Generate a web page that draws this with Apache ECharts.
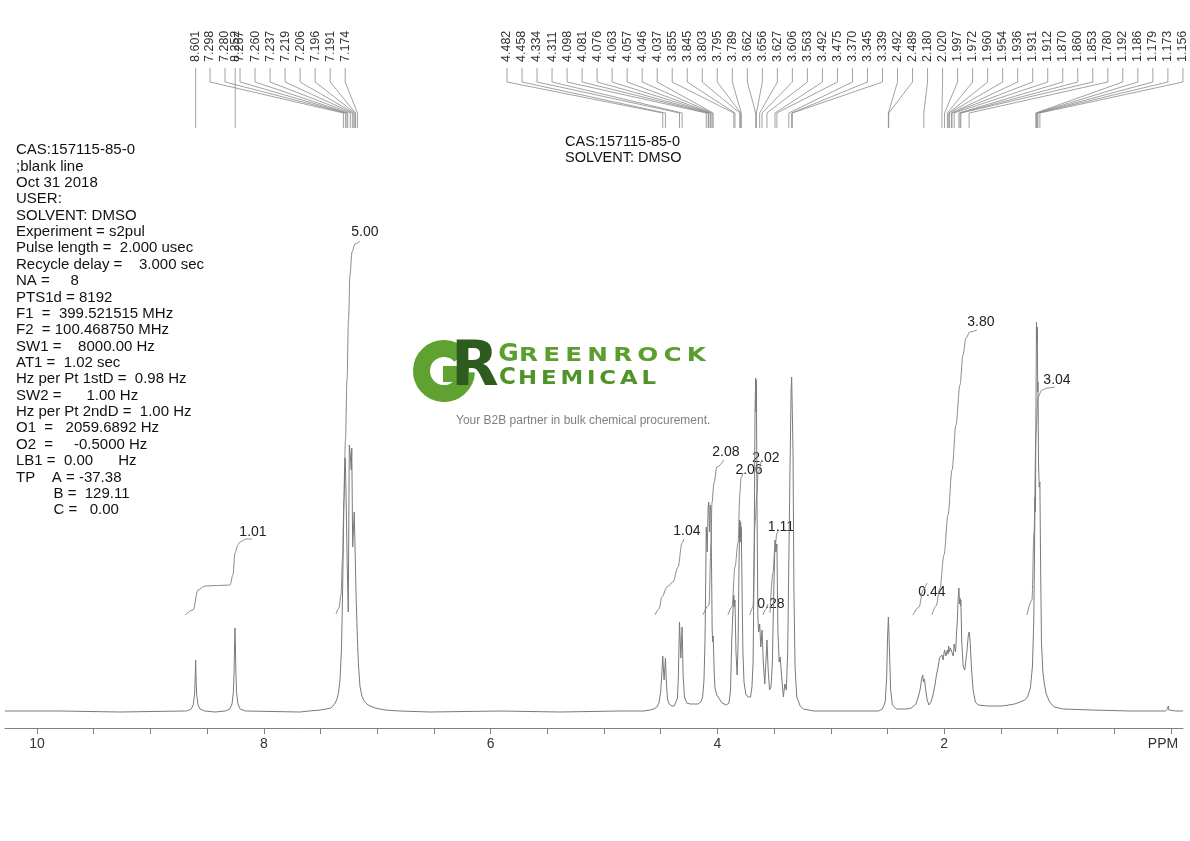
<!DOCTYPE html>
<html><head><meta charset="utf-8">
<script src="https://cdn.jsdelivr.net/npm/echarts@6/dist/echarts.min.js"></script>
<style>html,body{margin:0;padding:0;background:#fff}#chart{width:1190px;height:841px}</style>
</head><body><div id="chart"></div>
<script>
// ---------------- DATA (ppm, intensity) ----------------
const spectrumLow = [[10.282,1],[9.797,1],[9.268,0],[8.700,1],[8.680,1],[8.640,3],[8.622,7],[8.610,18],[8.605,33],[8.601,52],[8.597,33],[8.592,18],[8.580,7],[8.562,3],[8.520,1],[8.430,0],[8.340,1],[8.300,3],[8.280,8],[8.268,20],[8.262,40],[8.258,65],[8.254,84],[8.250,65],[8.246,40],[8.240,20],[8.228,8],[8.208,3],[8.160,1],[7.681,0],[7.600,1],[7.500,2],[7.451,3],[7.410,4],[7.390,6],[7.370,9],[7.354,13],[7.340,20],[7.328,32],[7.315,62],[7.306,112],[7.297,182],[7.288,242],[7.282,254],[7.275,222],[7.265,152],[7.255,100],[7.246,267],[7.237,257],[7.229,242],[7.224,264],[7.216,165],[7.202,200],[7.193,152],[7.185,112],[7.174,72],[7.165,47],[7.152,26],[7.135,16],[7.115,11],[7.081,7],[7.019,4],[6.931,2],[6.800,1],[6.534,0],[5.917,1],[5.388,0],[4.859,1],[4.650,1],[4.594,2],[4.560,3],[4.533,5]];
const spectrumMid = [[4.515,9],[4.500,20],[4.490,38],[4.482,56],[4.470,32],[4.458,54],[4.450,30],[4.440,13],[4.425,8],[4.400,6],[4.380,6],[4.365,7],[4.352,14],[4.344,35],[4.334,90],[4.322,54],[4.311,85],[4.302,36],[4.290,15],[4.270,9],[4.240,8],[4.200,8],[4.171,8],[4.145,10],[4.130,15],[4.118,32],[4.109,72],[4.104,120],[4.098,185],[4.090,160],[4.081,205],[4.076,210],[4.069,180],[4.063,207],[4.057,200],[4.051,140],[4.046,82],[4.041,70],[4.037,76],[4.028,40],[4.021,24],[4.005,17],[3.995,15],[3.959,9],[3.920,7],[3.907,7],[3.898,9],[3.884,22],[3.873,72],[3.863,100],[3.855,117],[3.850,105],[3.845,112],[3.836,60],[3.826,37],[3.817,70],[3.810,140],[3.803,192],[3.799,170],[3.795,190],[3.792,175],[3.789,185],[3.782,120],[3.775,60],[3.765,30],[3.750,18],[3.730,15],[3.708,15],[3.695,25],[3.685,50],[3.676,150],[3.668,300],[3.662,334],[3.659,300],[3.656,332],[3.650,200],[3.643,95],[3.636,80],[3.627,88],[3.617,65],[3.606,82],[3.595,50],[3.582,28],[3.572,50],[3.563,72],[3.552,42],[3.540,22],[3.527,25],[3.515,50],[3.503,120],[3.492,172],[3.484,160],[3.475,168],[3.466,80],[3.455,50],[3.446,55],[3.433,35],[3.418,15],[3.405,28],[3.392,22],[3.380,60],[3.370,150],[3.360,240],[3.350,320],[3.345,335],[3.339,334],[3.333,260],[3.325,120],[3.315,45],[3.300,15],[3.270,6],[3.240,3],[3.150,1],[2.900,1]];
const spectrumHigh = [[2.700,1],[2.580,1],[2.545,3],[2.520,10],[2.507,35],[2.499,75],[2.492,95],[2.489,94],[2.482,60],[2.472,22],[2.457,7],[2.420,3],[2.330,3],[2.290,4],[2.275,5],[2.249,8],[2.231,14],[2.213,22],[2.200,32],[2.189,37],[2.182,30],[2.174,33],[2.163,22],[2.150,12],[2.134,7],[2.116,10],[2.099,17],[2.081,27],[2.068,37],[2.055,44],[2.041,54],[2.020,57],[2.010,52],[1.997,62],[1.985,56],[1.972,62],[1.966,58],[1.960,66],[1.954,60],[1.945,64],[1.936,66],[1.931,62],[1.920,56],[1.912,68],[1.900,60],[1.885,90],[1.876,115],[1.870,124],[1.865,108],[1.860,114],[1.856,106],[1.853,112],[1.845,70],[1.832,45],[1.818,42],[1.800,60],[1.788,76],[1.780,80],[1.772,72],[1.760,45],[1.745,22],[1.725,10],[1.700,7],[1.620,6],[1.490,6],[1.430,7],[1.380,8],[1.330,10],[1.290,12],[1.265,15],[1.240,24],[1.222,45],[1.210,90],[1.205,140],[1.199,215],[1.195,200],[1.190,320],[1.186,390],[1.182,370],[1.179,385],[1.175,320],[1.173,330],[1.168,250],[1.162,225],[1.156,230],[1.150,150],[1.142,70],[1.130,40],[1.115,27],[1.100,18],[1.070,10],[1.030,5],[0.950,3],[0.700,2],[0.350,1],[0.050,1],[0.030,3],[0.024,6],[0.018,2],[-0.040,1],[-0.106,1]];

// integral curves
const int101 = [[8.695,97],[8.624,102],[8.580,122],[8.519,126],[8.298,127],[8.272,137],[8.254,159],[8.228,167],[8.210,170],[8.157,173],[8.104,173]];
const int500 = [[7.363,98],[7.337,104],[7.319,117],[7.306,152],[7.293,212],[7.280,272],[7.266,332],[7.253,392],[7.240,437],[7.222,460],[7.196,468],[7.152,471]];
const int104 = [[4.550,97],[4.515,103],[4.489,115],[4.444,125],[4.392,130],[4.347,145],[4.312,169],[4.295,173]];
const int208 = [[4.127,97],[4.074,107],[4.056,169],[4.048,209],[4.030,229],[4.004,245],[3.942,252]];
const int206 = [[3.907,97],[3.871,105],[3.845,145],[3.818,169],[3.801,219],[3.792,234],[3.774,239]];
const int202 = [[3.713,97],[3.686,105],[3.668,189],[3.651,219],[3.642,239],[3.616,250]];
const int028 = [[3.598,97],[3.571,103],[3.554,108]];
const int111 = [[3.536,99],[3.510,139],[3.492,165],[3.474,179],[3.457,182]];
const int044 = [[2.275,97],[2.222,105],[2.187,122],[2.152,129]];
const int380 = [[2.108,97],[2.072,106],[2.037,124],[2.002,157],[1.966,197],[1.931,242],[1.896,287],[1.861,327],[1.834,357],[1.808,374],[1.773,380],[1.711,382]];
const int304 = [[1.270,97],[1.226,112],[1.208,179],[1.190,279],[1.173,315],[1.138,322],[1.093,324],[1.023,325]];
const integralValues = ['1.01','5.00','1.04','2.08','2.06','2.02','0.28','1.11','0.44','3.80','3.04'];

// peak picks
const peaksSingle = ['8.601','8.252'];
const peaksAromatic = ['7.298','7.280','7.267','7.260','7.237','7.219','7.206','7.196','7.191','7.174'];
const peaksAliphatic = ['4.482','4.458','4.334','4.311','4.098','4.081','4.076','4.063','4.057','4.046','4.037','3.855','3.845','3.803','3.795','3.789','3.662','3.656','3.627','3.606','3.563','3.492','3.475','3.370','3.345','3.339','2.492','2.489','2.180','2.020','1.997','1.972','1.960','1.954','1.936','1.931','1.912','1.870','1.860','1.853','1.780','1.192','1.186','1.179','1.173','1.156'];

// axis ticks / labels
const tickValues = [0,0.5,1,1.5,2,2.5,3,3.5,4,4.5,5,5.5,6,6.5,7,7.5,8,8.5,9,9.5,10];
const labelValues = [0,2,4,6,8,10];

// header texts
const leftInfo = ['CAS:157115-85-0',';blank line','Oct 31 2018','USER:','SOLVENT: DMSO','Experiment = s2pul','Pulse length =  2.000 usec','Recycle delay =    3.000 sec','NA =     8','PTS1d = 8192','F1  =  399.521515 MHz','F2  = 100.468750 MHz','SW1 =    8000.00 Hz','AT1 =  1.02 sec','Hz per Pt 1stD =  0.98 Hz','SW2 =      1.00 Hz','Hz per Pt 2ndD =  1.00 Hz','O1  =   2059.6892 Hz','O2  =     -0.5000 Hz','LB1 =  0.00      Hz','TP    A = -37.38','         B =  129.11','         C =   0.00'];
const centerInfo = ['CAS:157115-85-0','SOLVENT: DMSO'];
const logoWord1 = 'GREENROCK';
const logoWord2 = 'CHEMICAL';
const tagline = 'Your B2B partner in bulk chemical procurement.';

// ---------------- LAYOUT ----------------
const integralLabelOffsets = [[1,-7],[5,-9],[3,-8],[2,-8],[6,-3],[5,-4],[3,0],[2,-3],[5,9],[4,-8],[2,-7]];
const AROM_X0 = 210, ALIPH_X0 = 507, LABEL_STEP = 15.02;
const FONT = '"Liberation Sans", Arial, sans-serif';

const chart = echarts.init(document.getElementById('chart'));
const integrals = [int101,int500,int104,int208,int206,int202,int028,int111,int044,int380,int304];
const series = [{
  type:'line', data: spectrumLow.concat(spectrumMid, spectrumHigh), symbol:'none', showSymbol:false,
  lineStyle:{color:'#7a7a7a', width:1}, silent:true, z:3
}];
integrals.forEach(d => series.push({
  type:'line', data:d, symbol:'none', showSymbol:false, smooth:0.35, smoothMonotone:'x',
  lineStyle:{color:'#8a8a8a', width:1}, silent:true, z:2
}));

chart.setOption({
  animation:false,
  backgroundColor:'#fff',
  grid:{left:5, right:7, top:10, bottom:113, containLabel:false},
  xAxis:{
    type:'value', inverse:true, min:-0.106, max:10.282,
    axisLine:{onZero:false, lineStyle:{color:'#808080', width:1}},
    axisTick:{show:true, customValues:tickValues, length:6, lineStyle:{color:'#808080'}},
    axisLabel:{show:true, customValues:labelValues, margin:9, color:'#333', fontSize:14, fontFamily:FONT,
      formatter: v => v === 0 ? '{p|PPM}' : String(v),
      rich:{p:{fontSize:14, fontFamily:FONT, color:'#333', padding:[0,16,0,0]}}},
    splitLine:{show:false}
  },
  yAxis:{type:'value', min:-16, max:702, show:false},
  series
});

const G = [];
const px = (x, y) => chart.convertToPixel({gridIndex:0}, [x, y]);
function peakLabel(s, lx){
  const p = px(parseFloat(s), 0)[0];
  const x = lx === null ? p : lx;
  G.push({type:'polyline', silent:true, shape:{points:[[x,68],[x,82],[p,113],[p,128]]}, style:{stroke:'#8a8a8a', lineWidth:0.8, fill:null}});
  G.push({type:'text', silent:true, x:x, y:62, rotation:Math.PI/2,
    style:{text:s, x:0, y:0, font:'12.5px '+FONT, fill:'#333', align:'left', verticalAlign:'middle'}});
}
peaksSingle.forEach(s => peakLabel(s, null));
peaksAromatic.forEach((s,i) => peakLabel(s, AROM_X0 + i*LABEL_STEP));
peaksAliphatic.forEach((s,i) => peakLabel(s, ALIPH_X0 + i*LABEL_STEP));

integrals.forEach((d,i) => {
  const e = px(d[d.length-1][0], d[d.length-1][1]);
  const o = integralLabelOffsets[i];
  G.push({type:'text', silent:true, x:e[0]+o[0], y:e[1]+o[1],
    style:{text:integralValues[i], x:0, y:0, font:'14px '+FONT, fill:'#222', align:'center', verticalAlign:'middle'}});
});

G.push({type:'text', silent:true, x:16, y:142, style:{text:leftInfo.join('\n'), font:'15px '+FONT, lineHeight:16.36, fill:'#111', align:'left', verticalAlign:'top'}});
G.push({type:'text', silent:true, x:565, y:134, style:{text:centerInfo.join('\n'), font:'14.5px '+FONT, lineHeight:16, fill:'#111', align:'left', verticalAlign:'top'}});

// logo
const mctx = document.createElement('canvas').getContext('2d');
function spacedWord(word, x0, x1, yc, font, sx, color){
  mctx.font = font;
  const w = Array.from(word).map(c => mctx.measureText(c).width * sx);
  const total = w.reduce((a,b)=>a+b,0);
  const gap = (x1 - x0 - total) / (word.length - 1);
  let cur = x0;
  Array.from(word).forEach((c,i) => {
    G.push({type:'text', silent:true, x:cur, y:yc, scaleX:sx, style:{text:c, x:0, y:0, font:font, fill:color, align:'left', verticalAlign:'middle'}});
    cur += w[i] + gap;
  });
}
G.push({type:'arc', silent:true, shape:{cx:444, cy:371, r:22.5, startAngle:0.05, endAngle:5.55, clockwise:true}, style:{stroke:'#5fa231', lineWidth:17, fill:null}});
G.push({type:'rect', silent:true, shape:{x:443, y:366, width:26, height:16}, style:{fill:'#5fa231'}});
G.push({type:'text', silent:true, x:451, y:369, style:{text:'R', font:'bold 62px "DejaVu Sans"', fill:'#2e5c1f', align:'left', verticalAlign:'middle'}});
G.push({type:'text', silent:true, x:508.5, y:354, style:{text:logoWord1[0], font:'bold 25px "DejaVu Sans"', fill:'#5a9e2c', align:'center', verticalAlign:'middle'}});
spacedWord(logoWord1.slice(1), 519, 706, 356.3, 'bold 19px "DejaVu Sans"', 1.3, '#5a9e2c');
G.push({type:'text', silent:true, x:507.5, y:378, style:{text:logoWord2[0], font:'bold 23px "DejaVu Sans"', fill:'#4f9426', align:'center', verticalAlign:'middle'}});
spacedWord(logoWord2.slice(1), 518, 656, 379.3, 'bold 19px "DejaVu Sans"', 1.2, '#4f9426');
G.push({type:'text', silent:true, x:456, y:421, style:{text:tagline, font:'12px '+FONT, fill:'#808080', align:'left', verticalAlign:'middle'}});

chart.setOption({graphic:{elements:G}});
</script></body></html>
